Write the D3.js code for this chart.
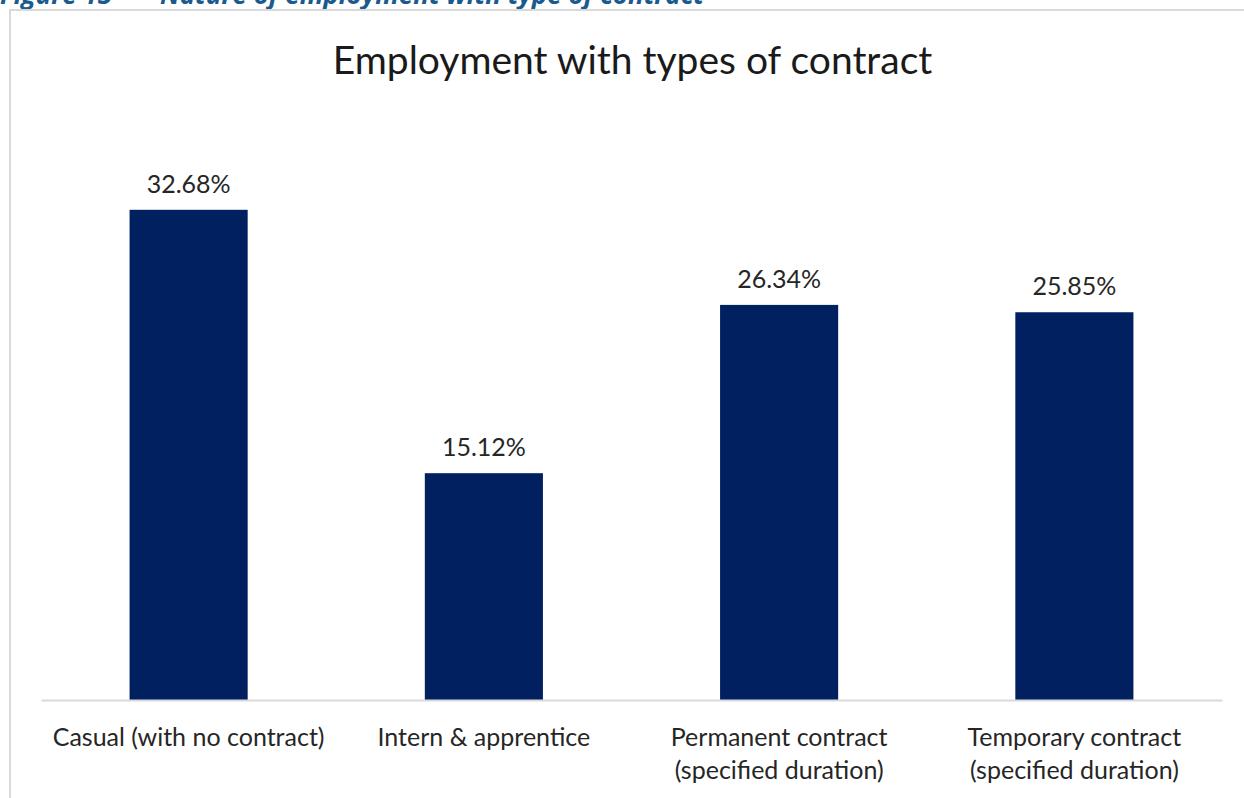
<!DOCTYPE html>
<html>
<head>
<meta charset="utf-8">
<script src="https://cdn.jsdelivr.net/npm/d3@7"></script>
<style>
  html, body { margin: 0; padding: 0; background: #fff; overflow: hidden; }
  svg { display: block; }
</style>
</head>
<body>
<svg id="chart" width="1244" height="798"></svg>
<script>
// Share of employment by type of contract (%)
const categories = [
  ["Casual (with no contract)"],
  ["Intern & apprentice"],
  ["Permanent contract", "(specified duration)"],
  ["Temporary contract", "(specified duration)"]
];
const values = [32.68, 15.12, 26.34, 25.85];
const figureCaption = ["Figure 15", "Nature of employment with type of contract"];
const chartTitle = "Employment with types of contract";

const svg = d3.select("#chart");
const W = 1244, H = 798;
const font = "Lato, 'Open Sans', sans-serif";

// Document caption running off the top edge
const cap = svg.append("g")
  .attr("font-family", "'Open Sans', sans-serif")
  .attr("font-size", 26)
  .attr("font-weight", 700)
  .attr("font-style", "italic")
  .attr("fill", "#1a5a8c");
cap.append("text").attr("x", 0).attr("y", 4).text(figureCaption[0]);
cap.append("text").attr("x", 160).attr("y", 4).text(figureCaption[1]);

// Chart frame
svg.append("rect")
  .attr("x", 10).attr("y", 10)
  .attr("width", W + 20).attr("height", H + 20)
  .attr("fill", "#fff")
  .attr("stroke", "#d9d9d9")
  .attr("stroke-width", 2);

const plot = { left: 41, right: 1222, top: 175, bottom: 700 };

const x = d3.scaleBand()
  .domain(d3.range(values.length))
  .range([plot.left, plot.right])
  .paddingInner(0.6)
  .paddingOuter(0.3);

const y = d3.scaleLinear()
  .domain([0, 35])
  .range([plot.bottom, plot.top]);

// Title
svg.append("text")
  .attr("x", (plot.left + plot.right) / 2 + 1)
  .attr("y", 74)
  .attr("text-anchor", "middle")
  .attr("font-family", font)
  .attr("font-size", 39)
  .attr("fill", "#1a1a1a")
  .text(chartTitle);

// Bars
svg.append("g").selectAll("rect")
  .data(values)
  .join("rect")
  .attr("x", (d, i) => x(i))
  .attr("y", d => y(d))
  .attr("width", x.bandwidth())
  .attr("height", d => y(0) - y(d))
  .attr("fill", "#002060");

// Value labels
svg.append("g").selectAll("text")
  .data(values)
  .join("text")
  .attr("x", (d, i) => x(i) + x.bandwidth() / 2)
  .attr("y", d => y(d) - 17)
  .attr("text-anchor", "middle")
  .attr("font-family", font)
  .attr("font-size", 25)
  .attr("fill", "#262626")
  .text(d => d.toFixed(2) + "%");

// Category axis
const axis = svg.append("g")
  .attr("transform", `translate(0,${plot.bottom})`)
  .call(d3.axisBottom(x).tickSize(0).tickFormat(""));
axis.select(".domain").attr("stroke", "#d9d9d9").attr("stroke-width", 2);

// Category labels (wrapped onto two lines where needed)
const labels = svg.append("g").selectAll("text")
  .data(categories)
  .join("text")
  .attr("x", (d, i) => x(i) + x.bandwidth() / 2)
  .attr("y", plot.bottom + 46)
  .attr("text-anchor", "middle")
  .attr("font-family", font)
  .attr("font-size", 25)
  .attr("fill", "#262626");
labels.selectAll("tspan")
  .data(d => d)
  .join("tspan")
  .attr("x", function() { return d3.select(this.parentNode).attr("x"); })
  .attr("dy", (d, i) => i === 0 ? 0 : 33)
  .text(d => d);
</script>
</body>
</html>
